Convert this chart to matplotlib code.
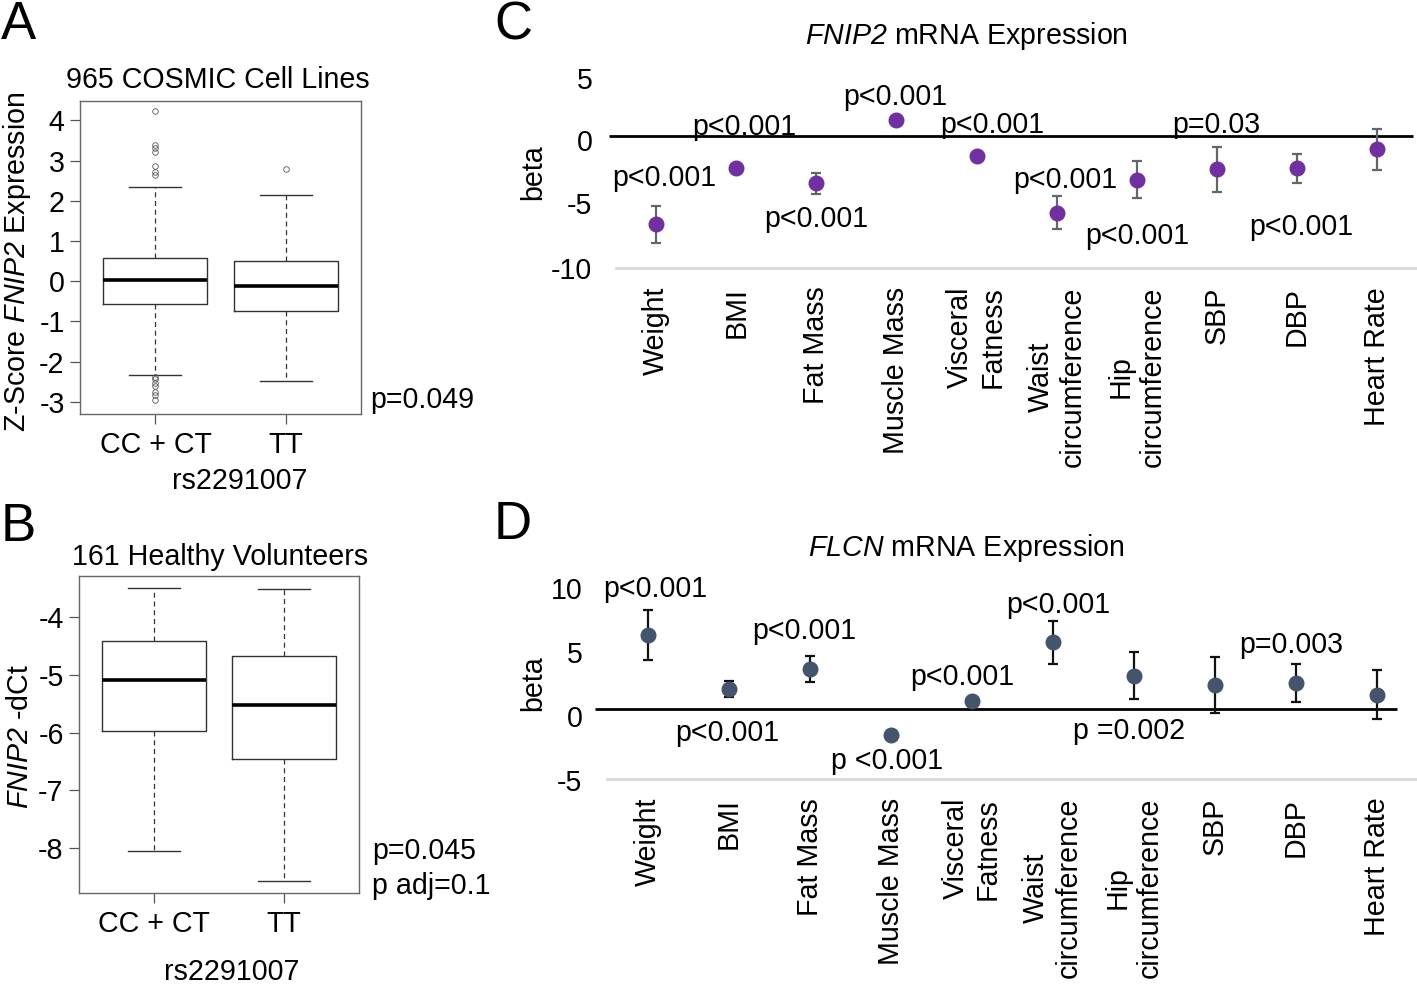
import matplotlib
matplotlib.use("Agg")
import matplotlib.pyplot as plt
from matplotlib.transforms import ScaledTranslation

plt.rcParams['font.family'] = ['Liberation Sans', 'DejaVu Sans']
plt.rcParams['mathtext.fontset'] = 'custom'
plt.rcParams['mathtext.rm'] = 'Liberation Sans'
plt.rcParams['mathtext.it'] = 'Liberation Sans:italic'
# use the bf slot as an italic face so digits stay italic too
plt.rcParams['mathtext.bf'] = 'Liberation Sans:italic'

# ---------------- data ----------------
groups = ["CC + CT", "TT"]

# Panel A: 965 COSMIC cell lines (Z-score FNIP2 expression)
A_q1 = [-0.56, -0.74]
A_med = [0.02, -0.12]
A_q3 = [0.59, 0.50]
A_whislo = [-2.32, -2.47]
A_whishi = [2.35, 2.15]
A_fliers_cc = [4.22, 3.38, 3.32, 3.22, 2.86, 2.71, 2.63,
               -2.37, -2.44, -2.52, -2.60, -2.76, -2.82, -2.96]
A_fliers_tt = [2.79]

# Panel B: 161 healthy volunteers (FNIP2 -dCt)
B_q1 = [-5.97, -6.46]
B_med = [-5.09, -5.51]
B_q3 = [-4.40, -4.67]
B_whislo = [-8.05, -8.57]
B_whishi = [-3.49, -3.50]

traits = ["Weight", "BMI", "Fat Mass", "Muscle Mass", "Visceral\nFatness",
          "Waist\ncircumference", "Hip\ncircumference", "SBP", "DBP", "Heart Rate"]

# Panel C: FNIP2 mRNA expression betas
C_beta = [-6.7, -2.45, -3.58, 1.2, -1.55, -5.82, -3.30, -2.52, -2.46, -1.02]
C_err = [1.42, 0.15, 0.80, 0.10, 0.15, 1.25, 1.41, 1.70, 1.13, 1.55]
C_ptext = ["p<0.001", "p<0.001", "p<0.001", "p<0.001", "p<0.001",
           "p<0.001", "p<0.001", "p=0.03", "p<0.001"]

# Panel D: FLCN mRNA expression betas
D_beta = [5.30, 1.45, 2.88, -1.88, 0.54, 4.76, 2.38, 1.74, 1.86, 1.02]
D_err = [1.78, 0.58, 0.93, 0.22, 0.15, 1.55, 1.67, 2.00, 1.38, 1.76]
D_ptext = ["p<0.001", "p<0.001", "p<0.001", "p <0.001", "p<0.001",
           "p<0.001", "p =0.002", "p=0.003"]

# annotation placement (category offset, y in data units)
C_px = [0.10, 1.10, 2.00, 2.98, 4.19, 5.11, 6.01, 6.99, 8.06]
C_py = [-3.2, 0.70, -6.3, 2.95, 0.85, -3.3, -7.6, 0.85, -6.9]
D_px = [0.09, 0.98, 1.94, 2.96, 3.89, 5.07, 5.95, 7.95]
D_py = [8.6, -1.72, 5.6, -3.72, 2.27, 7.45, -1.6, 4.55]

# small downward nudges (pixels) of the y tick labels, as in the original figure
C_lab_shift = [8, 4, 1, 0]
D_lab_shift = [19, 13, 7, 1]

FS = 20.6
W, H = 1417, 990
fig = plt.figure(figsize=(W / 100, H / 100), dpi=100)


def fx(x):
    return x / W


def fy(y):
    return 1 - y / H


def box_axes(rect, q1, med, q3, lo, hi, fliers, ylim, yticks):
    ax = fig.add_axes(rect)
    stats = []
    for i in range(2):
        stats.append(dict(med=med[i], q1=q1[i], q3=q3[i], whislo=lo[i],
                          whishi=hi[i], fliers=fliers[i], label=groups[i]))
    ax.bxp(stats, positions=[1, 2], widths=0.8, showfliers=True,
           boxprops=dict(color='#333333', linewidth=1.0),
           whiskerprops=dict(color='#333333', linewidth=0.9, linestyle=(0, (4, 3))),
           capprops=dict(color='#333333', linewidth=1.0),
           medianprops=dict(color='black', linewidth=2.6),
           flierprops=dict(marker='o', markersize=4, markerfacecolor='none',
                           markeredgecolor='#555555', markeredgewidth=0.6))
    ax.set_xlim(0.42, 2.58)
    ax.set_ylim(*ylim)
    ax.set_yticks(yticks)
    ax.set_yticklabels([f"{t:g}" for t in yticks], fontsize=FS)
    ax.set_xticks([1, 2])
    ax.set_xticklabels(groups, fontsize=FS)
    for s in ax.spines.values():
        s.set_color('#666666')
        s.set_linewidth(1.0)
    ax.tick_params(axis='both', length=7, width=0.9, color='#555555', pad=4)
    ax.tick_params(axis='x', pad=5)
    return ax


# Panel A
axA = box_axes([fx(80), fy(414), fx(281), (414 - 101) / H],
               A_q1, A_med, A_q3, A_whislo, A_whishi,
               [A_fliers_cc, A_fliers_tt], (-3.30, 4.48), [4, 3, 2, 1, 0, -1, -2, -3])
# Panel B
axB = box_axes([fx(79), fy(893), fx(280), (893 - 576) / H],
               B_q1, B_med, B_q3, B_whislo, B_whishi,
               [[], []], (-8.78, -3.28), [-4, -5, -6, -7, -8])

fig.text(fx(218), fy(80), "965 COSMIC Cell Lines", fontsize=FS, ha='center', va='center')
fig.text(fx(240), fy(481), "rs2291007", fontsize=FS, ha='center', va='center')
fig.text(fx(17), fy(262), r"Z-Score $\mathbf{FNIP2}$ Expression", fontsize=FS,
         rotation=90, ha='center', va='center')
fig.text(fx(370), fy(400), "p=0.049", fontsize=FS, ha='left', va='center')

fig.text(fx(220), fy(557), "161 Healthy Volunteers", fontsize=FS, ha='center', va='center')
fig.text(fx(232), fy(972), "rs2291007", fontsize=FS, ha='center', va='center')
fig.text(fx(20), fy(737), r"$\mathbf{FNIP2}$ -dCt", fontsize=FS,
         rotation=90, ha='center', va='center')
fig.text(fx(372), fy(851), "p=0.045", fontsize=FS, ha='left', va='center')
fig.text(fx(372), fy(886), "p adj=0.1", fontsize=FS, ha='left', va='center')


def beta_axes(rect, beta, err, color, ecolor, xlim, ylim, yticks, ptext, px, py,
              zero_end, lpad, shifts):
    ax = fig.add_axes(rect)
    x = list(range(len(traits)))
    ax.hlines(0, xlim[0], zero_end, color='black', linewidth=2.0, zorder=1)
    ax.errorbar(x, beta, yerr=err, fmt='o', color=color, markersize=10.5,
                ecolor=ecolor, elinewidth=1.6, capsize=3.5, capthick=1.6, zorder=3)
    ax.set_xlim(*xlim)
    ax.set_ylim(*ylim)
    ax.set_yticks(yticks)
    ax.set_yticklabels([f"{t:g}" for t in yticks], fontsize=FS)
    ax.set_xticks(x)
    ax.set_xticklabels(traits, rotation=90, fontsize=FS, multialignment='center')
    for k in ['top', 'right', 'left']:
        ax.spines[k].set_visible(False)
    ax.spines['bottom'].set_color('#d9d9d9')
    ax.spines['bottom'].set_linewidth(2.0)
    ax.spines['bottom'].set_bounds(-0.5, 9.5)
    ax.tick_params(axis='both', length=0)
    ax.tick_params(axis='y', pad=lpad)
    ax.tick_params(axis='x', pad=13.5)
    # nudge y tick labels (after tick_params, which resets transforms)
    for tick, s in zip(ax.yaxis.get_major_ticks(), shifts):
        lab = tick.label1
        lab.set_transform(lab.get_transform() +
                          ScaledTranslation(0, -s / 100, fig.dpi_scale_trans))
    for t, xx, yy in zip(ptext, px, py):
        ax.text(xx, yy, t, fontsize=FS, ha='center', va='center', zorder=4)
    return ax


axC = beta_axes([fx(609), fy(268), 1 - fx(609), (268 - 70) / H],
                C_beta, C_err, '#7030a0', '#666666', (-0.59, 9.5), (-10, 5),
                [5, 0, -5, -10], C_ptext, C_px, C_py, 9.45, 12, C_lab_shift)
axD = beta_axes([fx(595), fy(779), 1 - fx(595), (779 - 569) / H],
                D_beta, D_err, '#44546a', '#111111', (-0.65, 9.5), (-5, 10),
                [10, 5, 0, -5], D_ptext, D_px, D_py, 9.25, 9, D_lab_shift)

fig.text(fx(966), fy(36), r"$\mathbf{FNIP2}$ mRNA Expression", fontsize=FS, ha='center', va='center')
fig.text(fx(966), fy(548), r"$\mathbf{FLCN}$ mRNA Expression", fontsize=FS, ha='center', va='center')
fig.text(fx(533), fy(172), "beta", fontsize=FS, rotation=90, ha='center', va='center')
fig.text(fx(533), fy(683), "beta", fontsize=FS, rotation=90, ha='center', va='center')

for letter, x, y in [("A", 18, 25), ("B", 18, 527), ("C", 513, 25), ("D", 513, 525)]:
    fig.text(fx(x), fy(y), letter, fontsize=38, ha='center', va='center')

fig.savefig("out.png", dpi=100)
